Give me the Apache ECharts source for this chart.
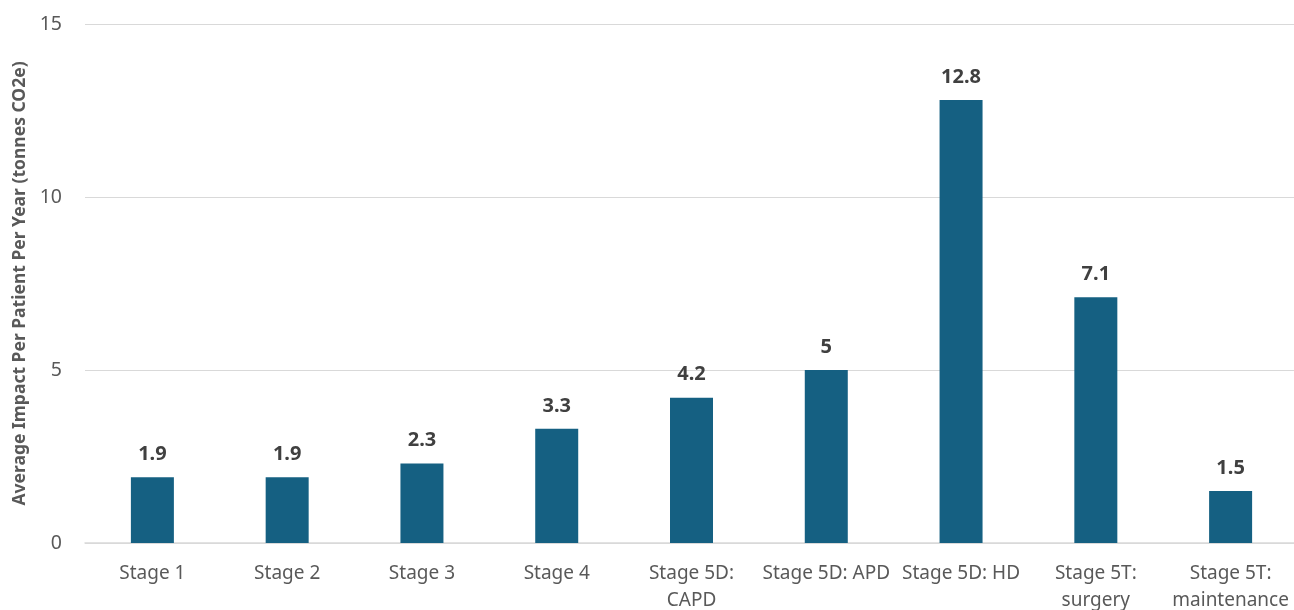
<!DOCTYPE html>
<html>
<head>
<meta charset="utf-8">
<style>
  html, body { margin: 0; padding: 0; background: #ffffff; }
  #chart { width: 1294px; height: 610px; }
</style>
<script src="https://cdn.jsdelivr.net/npm/echarts@6/dist/echarts.min.js"></script>
</head>
<body>
<div id="chart"></div>
<script>
// CKD stages and their annual per-patient carbon footprint
const categories = [
  'Stage 1', 'Stage 2', 'Stage 3', 'Stage 4', 'Stage 5D:\nCAPD',
  'Stage 5D: APD', 'Stage 5D: HD', 'Stage 5T:\nsurgery', 'Stage 5T:\nmaintenance'
];
const impactValues = [1.9, 1.9, 2.3, 3.3, 4.2, 5, 12.8, 7.1, 1.5];
const yTicks = [0, 5, 10, 15];

const FONT = 'Noto Sans';
const chart = echarts.init(document.getElementById('chart'), null, { renderer: 'canvas' });

chart.setOption({
  backgroundColor: '#ffffff',
  animation: false,
  textStyle: { fontFamily: FONT },
  grid: {
    left: 85, top: 24, width: 1213, height: 519,
    containLabel: false, outerBoundsMode: 'none'
  },
  xAxis: {
    type: 'category',
    data: categories,
    axisTick: { show: false },
    axisLine: { lineStyle: { color: '#d9d9d9', width: 1.5 } },
    axisLabel: {
      color: '#595959', fontSize: 19, fontFamily: FONT,
      margin: 17, lineHeight: 27, interval: 0
    }
  },
  yAxis: {
    type: 'value',
    min: yTicks[0],
    max: yTicks[yTicks.length - 1],
    interval: 5,
    name: 'Average Impact Per Patient Per Year (tonnes CO2e)',
    nameLocation: 'middle',
    nameGap: 56,
    nameTextStyle: { color: '#595959', fontSize: 17.5, fontWeight: 'bold', fontFamily: FONT },
    axisLine: { show: false },
    axisTick: { show: false },
    axisLabel: { color: '#595959', fontSize: 19.5, fontFamily: FONT, margin: 23 },
    splitLine: { lineStyle: { color: '#d9d9d9', width: 1.2 } }
  },
  series: [{
    type: 'bar',
    data: impactValues,
    barWidth: 43,
    itemStyle: { color: '#156082' },
    label: {
      show: true,
      position: 'top',
      distance: 13,
      color: '#404040',
      fontSize: 20,
      fontWeight: 'bold',
      fontFamily: FONT
    }
  }]
});
</script>
</body>
</html>
